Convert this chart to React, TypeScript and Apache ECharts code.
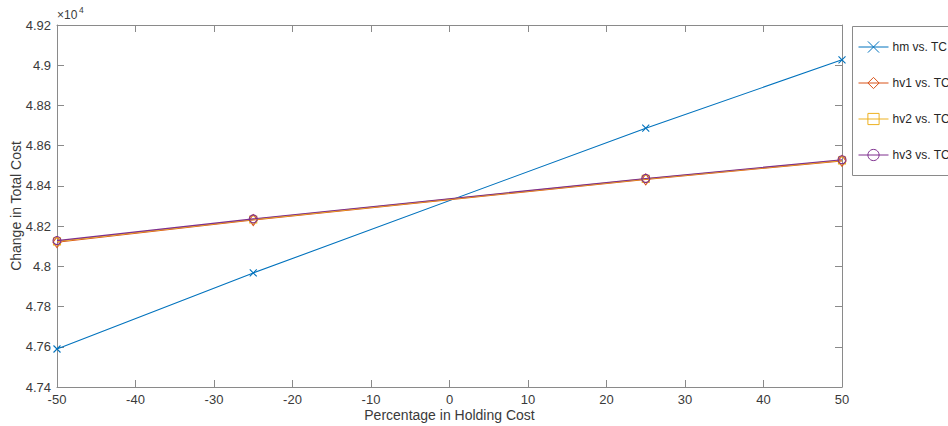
import React, { useEffect, useRef } from "react";
import * as echarts from "echarts";

const xValues = [-50, -25, 25, 50];
const hmValues = [47589, 47967, 48687, 49027];
const hv1Values = [48120, 48230, 48432, 48524];
const hv2Values = [48124, 48233, 48435, 48527];
const hv3Values = [48128, 48236, 48437, 48530];
const seriesNames = ["hm vs. TC", "hv1 vs. TC", "hv2 vs. TC", "hv3 vs. TC"];
const seriesColors = ["#0072BD", "#D95319", "#EDB120", "#7E2F8E"];

const FONT = "'Liberation Sans', Arial, Helvetica, sans-serif";
const AXIS_COLOR = "#8a8a8a";
const TEXT_COLOR = "#3a3a3a";

function pairs(vals: number[]) {
  return xValues.map((x, i) => [x, vals[i]]);
}

export default function App() {
  const ref = useRef<HTMLDivElement>(null);
  useEffect(() => {
    if (!ref.current) return;
    const chart = echarts.init(ref.current, undefined, { renderer: "svg" });
    const symbols = [
      "path://M0 0L10 10M10 0L0 10",
      "diamond",
      "rect",
      "circle",
    ];
    const sizes = [[7, 7], [8, 11], [7, 7], [8, 8]];
    const data = [hmValues, hv1Values, hv2Values, hv3Values];
    const series = data.map((vals, i) => ({
      name: seriesNames[i],
      type: "line",
      data: pairs(vals),
      symbol: symbols[i],
      symbolSize: sizes[i],
      showSymbol: true,
      lineStyle: { color: seriesColors[i], width: 1.1 },
      itemStyle: {
        color: i === 0 ? seriesColors[i] : "rgba(255,255,255,0)",
        borderColor: seriesColors[i],
        borderWidth: 1.1,
      },
      emphasis: { disabled: true },
      z: 2 + i,
    }));
    const yFmt = (v: number) => {
      const s = (v / 10000).toFixed(2);
      return s.replace(/0+$/, "").replace(/\.$/, "");
    };
    chart.setOption({
      animation: false,
      grid: { left: 57, right: 106, top: 25, bottom: 39, outerBoundsMode: "none", containLabel: false },
      xAxis: [
        {
          type: "value",
          min: -50,
          max: 50,
          interval: 10,
          position: "bottom",
          name: "Percentage in Holding Cost",
          nameLocation: "middle",
          nameGap: 21,
          nameMoveOverlap: false,
          nameTextStyle: { fontFamily: FONT, fontSize: 14, color: TEXT_COLOR },
          axisLine: { show: true, onZero: false, lineStyle: { color: AXIS_COLOR, width: 1 } },
          axisTick: { show: true, inside: true, length: 7, lineStyle: { color: AXIS_COLOR } },
          axisLabel: { fontFamily: FONT, fontSize: 13, color: TEXT_COLOR, margin: 6 },
          splitLine: { show: false },
        },
        {
          type: "value",
          min: -50,
          max: 50,
          interval: 10,
          position: "top",
          axisLine: { show: true, onZero: false, lineStyle: { color: AXIS_COLOR, width: 1 } },
          axisTick: { show: true, inside: true, length: 7, lineStyle: { color: AXIS_COLOR } },
          axisLabel: { show: false },
          splitLine: { show: false },
        },
      ],
      yAxis: [
        {
          type: "value",
          min: 47400,
          max: 49200,
          interval: 200,
          position: "left",
          name: "Change in Total Cost",
          nameLocation: "middle",
          nameGap: 34,
          nameMoveOverlap: false,
          nameRotate: 90,
          nameTextStyle: { fontFamily: FONT, fontSize: 14, color: TEXT_COLOR },
          axisLine: { show: true, onZero: false, lineStyle: { color: AXIS_COLOR, width: 1 } },
          axisTick: { show: true, inside: true, length: 7, lineStyle: { color: AXIS_COLOR } },
          axisLabel: { fontFamily: FONT, fontSize: 13, color: TEXT_COLOR, margin: 6, formatter: yFmt },
          splitLine: { show: false },
        },
        {
          type: "value",
          min: 47400,
          max: 49200,
          interval: 200,
          position: "right",
          axisLine: { show: true, onZero: false, lineStyle: { color: AXIS_COLOR, width: 1 } },
          axisTick: { show: true, inside: true, length: 7, lineStyle: { color: AXIS_COLOR } },
          axisLabel: { show: false },
          splitLine: { show: false },
        },
      ],
      legend: {
        orient: "vertical",
        left: 858,
        top: 40,
        padding: 0,
        itemWidth: 30,
        itemHeight: 14,
        itemGap: 22,
        data: seriesNames,
        lineStyle: { width: 1 },
        itemStyle: { borderWidth: 1 },
        textStyle: { fontFamily: FONT, fontSize: 12, color: "#262626", lineHeight: 14, padding: [0, 0, 0, -1] },
        selectedMode: false,
      },
      graphic: [
        {
          type: "rect",
          shape: { x: 852.5, y: 26.5, width: 120, height: 149 },
          style: { fill: "#fff", stroke: AXIS_COLOR, lineWidth: 1 },
          z: -1,
          silent: true,
        },
        {
          type: "text",
          x: 57,
          y: 9,
          style: {
            text: "×10",
            fontFamily: FONT,
            fontSize: 12,
            fill: TEXT_COLOR,
          },
          silent: true,
        },
        {
          type: "text",
          x: 79,
          y: 5,
          style: {
            text: "4",
            fontFamily: FONT,
            fontSize: 8.5,
            fill: TEXT_COLOR,
          },
          silent: true,
        },
      ],
      series,
    });
    return () => chart.dispose();
  }, []);
  return (
    <div
      ref={ref}
      style={{ position: "fixed", left: 0, top: 0, width: 948, height: 426, background: "#fff" }}
    />
  );
}
